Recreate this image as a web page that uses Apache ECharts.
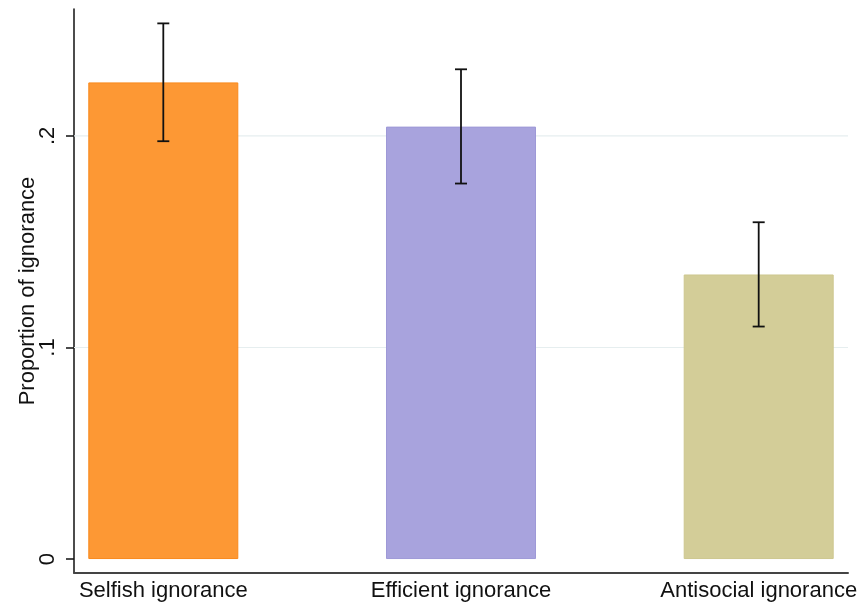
<!DOCTYPE html>
<html>
<head>
<meta charset="utf-8">
<script src="https://cdn.jsdelivr.net/npm/echarts@6/dist/echarts.min.js"></script>
<style>html,body{margin:0;padding:0;background:#fff;}#c{width:861px;height:603px;}</style>
</head>
<body>
<div id="c"></div>
<script>
const categories = ['Selfish ignorance', 'Efficient ignorance', 'Antisocial ignorance'];
const proportions = [0.2253, 0.2044, 0.1345];
const ciLow = [0.1975, 0.1775, 0.1099];
const ciHigh = [0.2532, 0.2315, 0.1592];
const yTicks = [0, 0.1, 0.2];
const yTickLabels = ['0', '.1', '.2'];
const barColors = ['#fd9834', '#a8a3dd', '#d3cd98'];
const barBorders = ['#f9891c', '#9e99d7', '#cdc78f'];

const font = '"Liberation Sans", Arial, sans-serif';
const xMin = -0.3, xMax = 2.3;
const chart = echarts.init(document.getElementById('c'), null, {renderer: 'canvas'});

chart.setOption({
  animation: false,
  backgroundColor: '#fff',
  grid: {left: 74, right: 13, top: 9, bottom: 30, containLabel: false, outerBoundsMode: 'none'},
  xAxis: {
    type: 'value', min: xMin, max: xMax,
    axisLine: {show: true, onZero: false, lineStyle: {color: '#444', width: 2}},
    axisTick: {show: false},
    splitLine: {show: false},
    axisLabel: {
      customValues: [0, 1, 2],
      formatter: v => categories[Math.round(v)],
      fontFamily: font, fontSize: 22, color: '#111', margin: 7
    }
  },
  yAxis: {
    type: 'value', min: -0.0066, max: 0.26,
    name: 'Proportion of ignorance', nameLocation: 'middle', nameGap: 35, nameMoveOverlap: false,
    nameTextStyle: {fontFamily: font, fontSize: 22, color: '#111'},
    axisLine: {show: true, onZero: false, lineStyle: {color: '#111', width: 1.5}},
    axisTick: {show: true, customValues: yTicks, length: 8, lineStyle: {color: '#111', width: 1.5}},
    splitLine: {show: false},
    axisLabel: {
      customValues: yTicks, rotate: 90,
      formatter: v => yTickLabels[yTicks.findIndex(t => Math.abs(t - v) < 1e-9)],
      fontFamily: font, fontSize: 22, color: '#111', margin: 15
    }
  },
  series: [
    {
      type: 'custom', z: 1, silent: true,
      data: yTicks.filter(t => t > 0),
      renderItem: function (params, api) {
        const t = api.value(0);
        const a = api.coord([xMin, t]);
        const b = api.coord([xMax, t]);
        return {type: 'line', shape: {x1: a[0], y1: a[1], x2: b[0], y2: b[1]},
                style: {stroke: '#e6eeef', lineWidth: 1.2}};
      }
    },
    {
      type: 'bar', barWidth: 150, z: 2,
      data: proportions.map((v, i) => ({
        value: [i, v],
        itemStyle: {color: barColors[i], borderColor: barBorders[i], borderWidth: 1}
      }))
    },
    {
      type: 'custom', z: 5,
      data: categories.map((c, i) => [i, ciLow[i], ciHigh[i]]),
      renderItem: function (params, api) {
        const x = api.value(0);
        const lo = api.coord([x, api.value(1)]);
        const hi = api.coord([x, api.value(2)]);
        const hw = 6;
        const style = {stroke: '#111', lineWidth: 1.8};
        return {
          type: 'group',
          children: [
            {type: 'line', shape: {x1: lo[0], y1: lo[1], x2: hi[0], y2: hi[1]}, style: style},
            {type: 'line', shape: {x1: lo[0] - hw, y1: lo[1], x2: lo[0] + hw, y2: lo[1]}, style: style},
            {type: 'line', shape: {x1: hi[0] - hw, y1: hi[1], x2: hi[0] + hw, y2: hi[1]}, style: style}
          ]
        };
      }
    }
  ]
});
</script>
</body>
</html>
